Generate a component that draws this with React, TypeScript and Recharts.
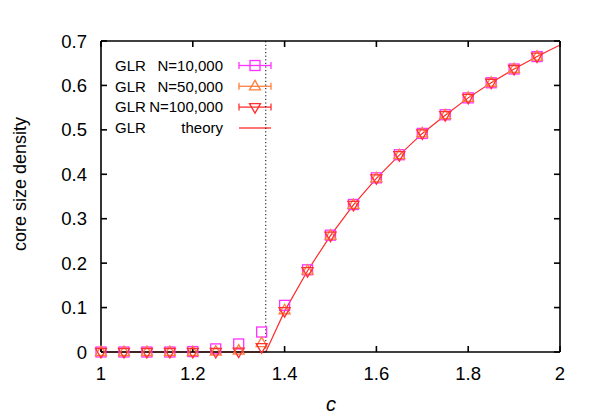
import React from 'react';
import { ComposedChart, XAxis, YAxis, Scatter, Line, ReferenceLine, Customized } from 'recharts';

const cValues = [1, 1.05, 1.1, 1.15, 1.2, 1.25, 1.3, 1.35, 1.4, 1.45, 1.5, 1.55, 1.6, 1.65, 1.7, 1.75, 1.8, 1.85, 1.9, 1.95];
const glr10k = [0, 0, 0, 0, 0.001, 0.007, 0.018, 0.045, 0.105, 0.185, 0.263, 0.332, 0.392, 0.444, 0.492, 0.534, 0.572, 0.606, 0.637, 0.665];
const glr50k = [0, 0, 0, 0, 0, 0.001, 0.003, 0.02, 0.094, 0.183, 0.262, 0.331, 0.391, 0.443, 0.492, 0.533, 0.572, 0.606, 0.637, 0.665];
const glr100k = [0, 0, 0, 0, 0, 0, 0.001, 0.011, 0.092, 0.182, 0.262, 0.331, 0.391, 0.443, 0.492, 0.533, 0.572, 0.606, 0.637, 0.665];
const theoryC = [1, 1.359, 1.4, 1.45, 1.5, 1.55, 1.6, 1.65, 1.7, 1.75, 1.8, 1.85, 1.9, 1.95, 2];
const theoryV = [0, 0, 0.092, 0.183, 0.262, 0.331, 0.391, 0.443, 0.492, 0.533, 0.572, 0.606, 0.637, 0.665, 0.691];
const threshold = 1.359;
const xTicks = [1, 1.2, 1.4, 1.6, 1.8, 2];
const yTicks = [0, 0.1, 0.2, 0.3, 0.4, 0.5, 0.6, 0.7];
const legendLeft = ['GLR', 'GLR', 'GLR', 'GLR'];
const legendRight = ['N=10,000', 'N=50,000', 'N=100,000', 'theory'];

const COL_10K = '#ff33ff';
const COL_50K = '#ff7f3f';
const COL_100K = '#ff3030';
const COL_TH = '#ff2a2a';
const FONT = '"Liberation Sans", Arial, Helvetica, sans-serif';

const toPts = (xs: number[], ys: number[]) => xs.map((c, i) => ({ c, v: ys[i] }));
const d10k = toPts(cValues, glr10k);
const d50k = toPts(cValues, glr50k);
const d100k = toPts(cValues, glr100k);
const dTheory = toPts(theoryC, theoryV);

const squareShape = (color: string) => (p: any) => (
  <rect x={p.cx - 5} y={p.cy - 5} width={10} height={10} fill="none" stroke={color} strokeWidth={1.3} />
);
const upShape = (color: string) => (p: any) => (
  <polygon points={`${p.cx},${p.cy - 6} ${p.cx - 5.5},${p.cy + 3.5} ${p.cx + 5.5},${p.cy + 3.5}`} fill="none" stroke={color} strokeWidth={1.3} />
);
const downShape = (color: string) => (p: any) => (
  <polygon points={`${p.cx},${p.cy + 6} ${p.cx - 5.5},${p.cy - 3.5} ${p.cx + 5.5},${p.cy - 3.5}`} fill="none" stroke={color} strokeWidth={1.3} />
);

const LegendLayer = () => {
  const rows = [65.5, 86.3, 107.1, 128];
  const colors = [COL_10K, COL_50K, COL_100K, COL_TH];
  const x0 = 239, x1 = 271, xm = 255;
  return (
    <g>
      {rows.map((y, i) => (
        <g key={i}>
          <text x={115} y={y + 5.3} fontFamily={FONT} fontSize={15} fill="#000">{legendLeft[i]}</text>
          <text x={223} y={y + 5.3} fontFamily={FONT} fontSize={15} fill="#000" textAnchor="end">{legendRight[i]}</text>
          <line x1={x0} x2={x1} y1={y} y2={y} stroke={colors[i]} strokeWidth={1.3} />
          {i < 3 && <line x1={x0} x2={x0} y1={y - 3.5} y2={y + 3.5} stroke={colors[i]} strokeWidth={1.3} />}
          {i < 3 && <line x1={x1} x2={x1} y1={y - 3.5} y2={y + 3.5} stroke={colors[i]} strokeWidth={1.3} />}
          {i === 0 && squareShape(colors[i])({ cx: xm, cy: y })}
          {i === 1 && upShape(colors[i])({ cx: xm, cy: y })}
          {i === 2 && downShape(colors[i])({ cx: xm, cy: y })}
        </g>
      ))}
      <text transform="translate(26,184) rotate(-90)" fontFamily={FONT} fontSize={18} fill="#000" textAnchor="middle">core size density</text>
      <text x={331} y={411} fontFamily={FONT} fontSize={20} fontStyle="italic" fill="#000" textAnchor="middle">c</text>
    </g>
  );
};

export default function App() {
  const axisLine = { stroke: '#000', strokeWidth: 1.6 };
  const tickLine = { stroke: '#000', strokeWidth: 1.6 };
  const tickStyle = { fontFamily: FONT, fontSize: 18.5, fill: '#000' };
  return (
    <div style={{ position: 'absolute', left: 0, top: 0, background: '#fff' }}>
      <ComposedChart width={598} height={419} margin={{ top: 0, right: 0, bottom: 0, left: 0 }}>
        <XAxis xAxisId={0} dataKey="c" type="number" domain={[1, 2]} ticks={xTicks}
          height={67} axisLine={axisLine} tickLine={tickLine} tickSize={-6} tickMargin={21} tick={tickStyle} />
        <XAxis xAxisId="top" orientation="top" dataKey="c" type="number" domain={[1, 2]} ticks={xTicks} allowDataOverflow
          height={41} axisLine={axisLine} tickLine={tickLine} tickSize={-6} tick={() => <g />} />
        <YAxis yAxisId={0} dataKey="v" type="number" domain={[0, 0.7]} ticks={yTicks}
          width={101} axisLine={axisLine} tickLine={tickLine} tickSize={-6} tickMargin={20} tick={tickStyle} />
        <YAxis yAxisId="right" orientation="right" dataKey="v" type="number" domain={[0, 0.7]} ticks={yTicks} allowDataOverflow
          width={38} axisLine={axisLine} tickLine={tickLine} tickSize={-6} tick={() => <g />} />
        <ReferenceLine x={threshold} stroke="#000" strokeWidth={1} strokeDasharray="1.2 2.4" />
        <Scatter data={d10k} dataKey="v" shape={squareShape(COL_10K)} isAnimationActive={false} />
        <Scatter data={d50k} dataKey="v" shape={upShape(COL_50K)} isAnimationActive={false} />
        <Scatter data={d100k} dataKey="v" shape={downShape(COL_100K)} isAnimationActive={false} />
        <Line data={dTheory} dataKey="v" type="linear" stroke={COL_TH} strokeWidth={1.2} dot={false} activeDot={false} isAnimationActive={false} />
        <Customized component={LegendLayer} />
      </ComposedChart>
    </div>
  );
}
